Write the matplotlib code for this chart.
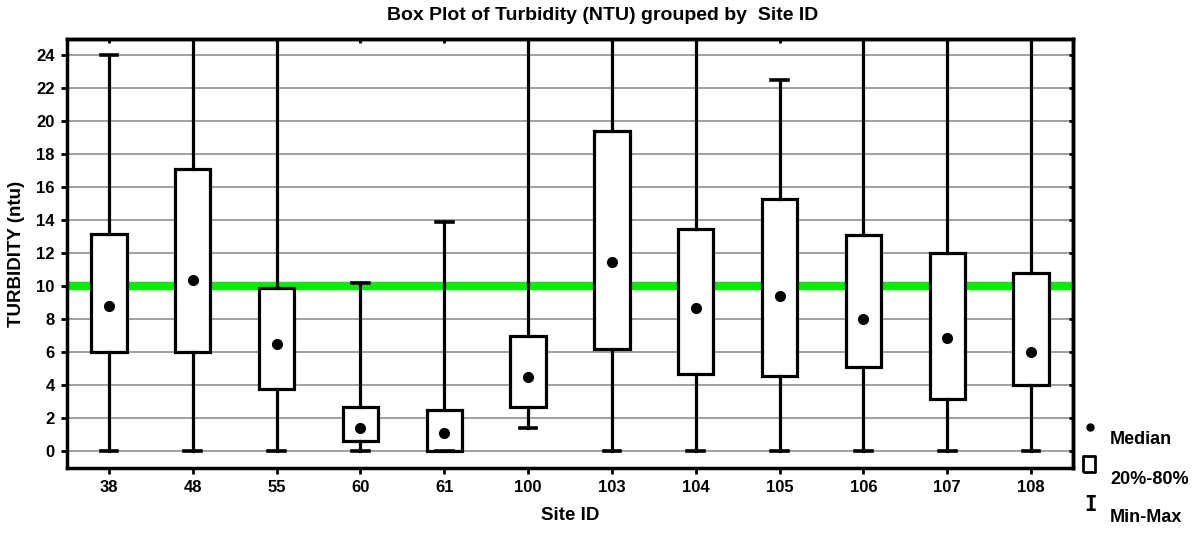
import numpy as np
import matplotlib
matplotlib.use("Agg")
import matplotlib.pyplot as plt

plt.rcParams['font.family'] = ['Liberation Sans', 'DejaVu Sans']
plt.rcParams['font.weight'] = 'bold'

# values; maxima above 25 run off the top of the chart
sites = ['38', '48', '55', '60', '61', '100', '103', '104', '105', '106', '107', '108']
mins = [0, 0, 0, 0, 0, 1.4, 0, 0, 0, 0, 0, 0]
p20 = [6.05, 6.0, 3.8, 0.65, 0.0, 2.7, 6.2, 4.7, 4.55, 5.1, 3.15, 4.0]
medians = [8.8, 10.4, 6.5, 1.4, 1.1, 4.5, 11.5, 8.7, 9.4, 8.0, 6.9, 6.0]
p80 = [13.2, 17.1, 9.9, 2.7, 2.5, 7.0, 19.4, 13.5, 15.3, 13.1, 12.0, 10.8]
maxs = [24.0, 30, 30, 10.2, 13.9, 30, 30, 30, 22.5, 30, 30, 30]
limit = 10  # guideline level

stats = []
for i in range(len(sites)):
    stats.append({'label': sites[i], 'whislo': mins[i], 'q1': p20[i], 'med': medians[i],
                  'q3': p80[i], 'whishi': maxs[i], 'mean': medians[i], 'fliers': []})

pos = np.arange(len(sites))
fig = plt.figure(figsize=(12.01, 5.33), dpi=100)
ax = fig.add_axes([0.0558, 0.122, 0.8376, 0.805])

ax.set_ylim(-1, 25)
ax.set_xlim(-0.5, len(sites) - 0.5)
yt = np.arange(0, 25, 2)
ax.set_yticks(yt)
for y in yt:
    ax.axhline(y, color='#999999', linewidth=1.3, zorder=0)
ax.axhline(limit, color='#00ee00', linewidth=6, zorder=1)

ax.bxp(stats, positions=pos, widths=0.42, patch_artist=True,
       showmeans=True, showfliers=False,
       boxprops=dict(facecolor='white', edgecolor='black', linewidth=2.3),
       whiskerprops=dict(color='black', linewidth=2.3),
       capprops=dict(color='black', linewidth=2.6),
       capwidths=0.2,
       medianprops=dict(linestyle='none'),
       meanprops=dict(marker='o', markerfacecolor='black', markeredgecolor='black', markersize=7),
       zorder=3)

ax.set_xticks(pos)
ax.set_xticklabels(sites, fontsize=12, fontweight='bold')
ax.set_yticklabels([str(v) for v in yt], fontsize=12, fontweight='bold')
ax.tick_params(axis='both', direction='out', length=4, width=2, pad=5)

# small inward ticks on top and right
top = ax.secondary_xaxis('top')
top.set_xticks(pos)
top.tick_params(direction='in', length=3, width=2, labeltop=False)
right = ax.secondary_yaxis('right')
right.set_yticks(yt)
right.tick_params(direction='in', length=3, width=2, labelright=False)
for a in (ax, top, right):
    for s in a.spines.values():
        s.set_linewidth(2.5)

fig.text(603 / 1201, 1 - 16 / 533, 'Box Plot of Turbidity (NTU) grouped by  Site ID',
         ha='center', va='center', fontsize=14, fontweight='bold')
ax.set_xlabel('Site ID', fontsize=13.5, fontweight='bold', labelpad=8)
ax.set_ylabel('TURBIDITY (ntu)', fontsize=13.5, fontweight='bold', labelpad=8)

# legend outside the axes, symbol above-left of its text
box_marker = [(-0.35, -0.5), (0.35, -0.5), (0.35, 0.5), (-0.35, 0.5), (-0.35, -0.5)]
fig.lines.append(plt.Line2D([1090 / 1201], [1 - 427 / 533], marker='o', color='black',
                            markersize=5, transform=fig.transFigure))
fig.lines.append(plt.Line2D([1089 / 1201], [1 - 464 / 533], marker=box_marker, color='black',
                            markerfacecolor='white', markeredgewidth=2, markersize=12,
                            transform=fig.transFigure))
fig.text(1091 / 1201, 1 - 505 / 533, 'I', ha='center', va='center', fontsize=15,
         family='DejaVu Sans Mono', fontweight='bold')
fig.text(1110 / 1201, 1 - 440 / 533, 'Median', fontsize=13, fontweight='bold', va='center')
fig.text(1110 / 1201, 1 - 479 / 533, '20%-80%', fontsize=13, fontweight='bold', va='center')
fig.text(1110 / 1201, 1 - 517 / 533, 'Min-Max', fontsize=13, fontweight='bold', va='center')

fig.savefig('out.png', dpi=100)
